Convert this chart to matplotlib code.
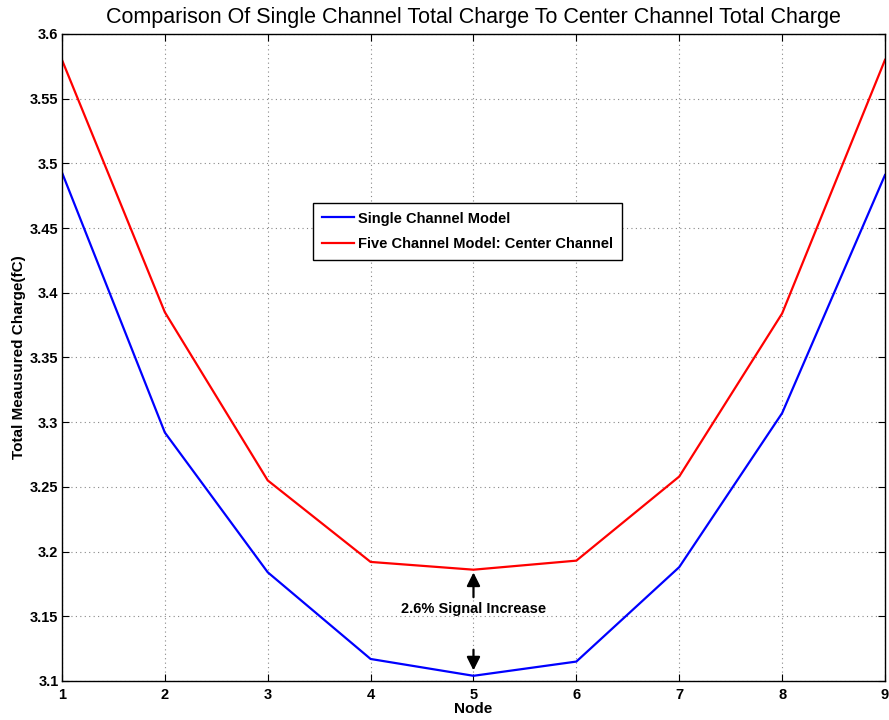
import matplotlib
matplotlib.use("Agg")
import matplotlib.pyplot as plt

plt.rcParams['font.family'] = ['Liberation Sans', 'DejaVu Sans']

# node positions along the strip
nodes = [1, 2, 3, 4, 5, 6, 7, 8, 9]
# total charge (fC) per node
single_channel = [3.493, 3.292, 3.184, 3.117, 3.104, 3.115, 3.188, 3.307, 3.491]
center_channel = [3.580, 3.385, 3.255, 3.192, 3.186, 3.193, 3.258, 3.384, 3.580]
yticks = [3.1, 3.15, 3.2, 3.25, 3.3, 3.35, 3.4, 3.45, 3.5, 3.55, 3.6]
ytick_labels = ['3.1', '3.15', '3.2', '3.25', '3.3', '3.35', '3.4', '3.45', '3.5', '3.55', '3.6']

fig = plt.figure(figsize=(8.89, 7.2), dpi=100)
ax = fig.add_axes([0.0697, 0.0542, 0.9258, 0.8986])

ax.plot(nodes, single_channel, color='#0000ff', lw=1.6, label='Single Channel Model')
ax.plot(nodes, center_channel, color='#ff0000', lw=1.6, label='Five Channel Model: Center Channel')

ax.set_xlim(1, 9)
ax.set_ylim(3.1, 3.6)
ax.set_xticks(nodes)
ax.set_xticklabels([str(n) for n in nodes], fontweight='bold', fontsize=10.5)
ax.set_yticks(yticks)
ax.set_yticklabels(ytick_labels, fontweight='bold', fontsize=10.5)
ax.tick_params(direction='in', top=True, right=True, length=5, width=0.8)
ax.tick_params(axis='x', pad=5)
ax.tick_params(axis='y', pad=2.5)
ax.grid(True, color='#888888', linestyle=(0, (1, 3)), linewidth=0.8)
for s in ax.spines.values():
    s.set_linewidth(1.0)

ax.set_xlabel('Node', fontweight='bold', fontsize=11, labelpad=0)
ax.set_ylabel('Total Meausured Charge(fC)', fontweight='bold', fontsize=11, labelpad=3)
ax.set_title('Comparison Of Single Channel Total Charge To Center Channel Total Charge',
             fontsize=15.5, pad=8)

leg = ax.legend(loc='upper left', bbox_to_anchor=(0.305, 0.739), borderaxespad=0,
                prop={'weight': 'bold', 'size': 10.5},
                fancybox=False, framealpha=1, edgecolor='black', handlelength=2.2,
                handletextpad=0.3, borderpad=0.6, labelspacing=0.8)
leg.get_frame().set_linewidth(1.0)

# arrows marking the gap at node 5
mid = nodes.index(5)
ax.annotate('', xy=(5, center_channel[mid]), xytext=(5, 3.1626),
            arrowprops=dict(arrowstyle='-|>', color='black', lw=1.6, mutation_scale=20))
ax.annotate('', xy=(5, single_channel[mid] + 0.002), xytext=(5, 3.1263),
            arrowprops=dict(arrowstyle='-|>', color='black', lw=1.6, mutation_scale=20))
ax.text(5, 3.1556, '2.6% Signal Increase', ha='center', va='center',
        fontweight='bold', fontsize=10.5)

fig.savefig('out.png', dpi=100)
